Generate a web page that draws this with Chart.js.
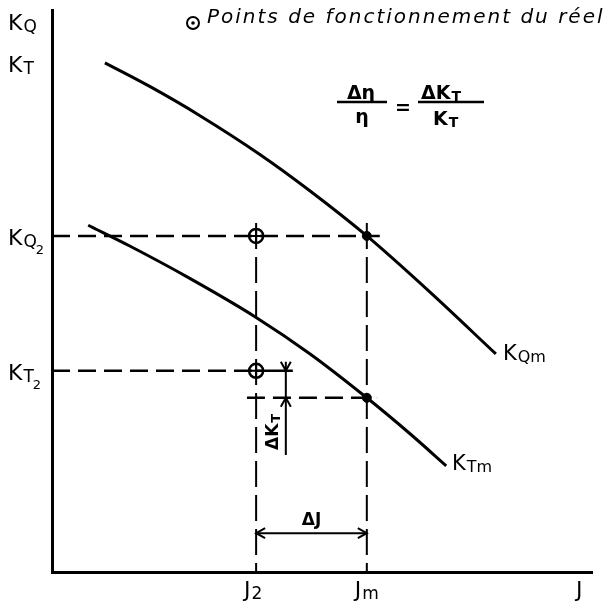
<!DOCTYPE html>
<html>
<head>
<meta charset="utf-8">
<script src="https://cdn.jsdelivr.net/npm/chart.js@4.4.1/dist/chart.umd.min.js"></script>
<style>
  html, body { margin: 0; padding: 0; background: #fff; }
  #wrap { width: 611px; height: 603px; }
</style>
</head>
<body>
<div id="wrap"><canvas id="diagram" width="611" height="603"></canvas></div>
<script>
// courbe KQ du modèle
const jKQm = [0.98, 1.81, 2.74, 3.85, 4.78, 5.83, 7.00, 8.22];
const kQm  = [9.06, 8.64, 8.12, 7.43, 6.78, 5.98, 4.98, 3.88];
// courbe KT du modèle
const jKTm = [0.67, 1.44, 2.56, 3.78, 4.78, 5.83, 6.63, 7.30];
const kTm  = [6.17, 5.80, 5.22, 4.53, 3.88, 3.10, 2.46, 1.89];

// points de fonctionnement
const J2 = 3.78, Jm = 5.83;
const KQ2 = 5.98, KT2 = 3.58, KTatJm = 3.10;

// cotes ΔJ et ΔKT
const dJy = 0.69;
const dKTx = 4.33, dKTtop = 3.74, dKTbottom = 2.08;
// bouts des traits de rappel
const guideTop = 6.21, kq2End = 6.07, kt2End = 4.46, ktmStart = 3.61, ktmEnd = 6.02;

const pts = (xs, ys) => xs.map((x, i) => ({ x: x, y: ys[i] }));
const seg = (x1, y1, x2, y2) => [{ x: x1, y: y1 }, { x: x2, y: y2 }];

function line(data, width, dash) {
  return {
    data: data, showLine: true, borderColor: '#000', borderWidth: width,
    borderDash: dash || [], pointRadius: 0, fill: false
  };
}

const datasets = [
  Object.assign(line(pts(jKQm, kQm), 3), { cubicInterpolationMode: 'monotone' }),
  Object.assign(line(pts(jKTm, kTm), 3), { cubicInterpolationMode: 'monotone' }),
  line(seg(0, KQ2, kq2End, KQ2), 2.5, [18, 8]),
  line(seg(0, KT2, J2, KT2), 2.5, [18, 8]),
  line(seg(J2, KT2, kt2End, KT2), 2.5),
  line(seg(ktmStart, KTatJm, ktmEnd, KTatJm), 2.5, [18, 8]),
  line(seg(J2, guideTop, J2, 0), 2, [26, 8]),
  line(seg(Jm, guideTop, Jm, 0), 2, [26, 8]),
  line(seg(J2, dJy, Jm, dJy), 2),
  line(seg(dKTx, dKTtop, dKTx, dKTbottom), 2),
  {
    data: seg(J2, KQ2, J2, KT2), showLine: false, pointStyle: 'circle',
    pointRadius: 7, borderColor: '#000', borderWidth: 2.5, backgroundColor: 'rgba(0,0,0,0)'
  },
  {
    data: seg(J2, KQ2, J2, KT2), showLine: false, pointStyle: 'cross',
    pointRadius: 7, borderColor: '#000', borderWidth: 2
  },
  {
    data: seg(Jm, KQ2, Jm, KTatJm), showLine: false, pointStyle: 'circle',
    pointRadius: 4.5, borderColor: '#000', backgroundColor: '#000', borderWidth: 1
  }
];

// lettre principale + indices
function sym(ctx, x, y, main, sub, sub2, size, weight) {
  size = size || 22;
  weight = weight || '';
  ctx.font = weight + ' ' + size + 'px "DejaVu Sans"';
  ctx.fillText(main, x, y);
  let cx = x + ctx.measureText(main).width + 1;
  if (sub) {
    ctx.font = weight + ' ' + Math.round(size * 0.75) + 'px "DejaVu Sans"';
    ctx.fillText(sub, cx, y + 2);
    cx += ctx.measureText(sub).width + 1;
  }
  if (sub2) {
    ctx.font = weight + ' ' + Math.round(size * 0.6) + 'px "DejaVu Sans"';
    ctx.fillText(sub2, cx - 2, y + 9);
  }
}

function arrowHead(ctx, x, y, dx, dy) {
  const s = 9, w = 5;
  ctx.beginPath();
  ctx.moveTo(x - dx * s - dy * w, y - dy * s + dx * w);
  ctx.lineTo(x, y);
  ctx.lineTo(x - dx * s + dy * w, y - dy * s - dx * w);
  ctx.stroke();
}

const annotations = {
  id: 'annotations',
  afterDatasetsDraw(chart) {
    const ctx = chart.ctx;
    const xs = chart.scales.x, ys = chart.scales.y;
    const px = v => xs.getPixelForValue(v);
    const py = v => ys.getPixelForValue(v);
    ctx.save();
    ctx.fillStyle = '#000';
    ctx.strokeStyle = '#000';
    ctx.textBaseline = 'alphabetic';
    ctx.textAlign = 'left';

    // titres des axes
    sym(ctx, 8, 30, 'K', 'Q');
    sym(ctx, 8, 72, 'K', 'T');
    sym(ctx, 8, py(KQ2) + 9, 'K', 'Q', '2');
    sym(ctx, 8, py(KT2) + 9, 'K', 'T', '2');
    sym(ctx, 576, 597, 'J');
    sym(ctx, px(J2) - 12, 597, 'J', '2');
    sym(ctx, px(Jm) - 12, 597, 'J', 'm');

    // noms des courbes
    sym(ctx, 503, 360, 'K', 'Qm', null, 21);
    sym(ctx, 452, 470, 'K', 'Tm', null, 21);

    // cotes
    ctx.lineWidth = 2;
    arrowHead(ctx, px(J2), py(dJy), -1, 0);
    arrowHead(ctx, px(Jm), py(dJy), 1, 0);
    arrowHead(ctx, px(dKTx), py(KT2), 0, 1);
    arrowHead(ctx, px(dKTx), py(KTatJm), 0, -1);
    ctx.font = 'bold 17px "DejaVu Sans"';
    ctx.textAlign = 'center';
    ctx.fillText('ΔJ', (px(J2) + px(Jm)) / 2, py(dJy) - 8);
    ctx.save();
    ctx.translate(px(dKTx) - 8, 450);
    ctx.rotate(-Math.PI / 2);
    ctx.textAlign = 'left';
    sym(ctx, 0, 0, 'ΔK', 'T', null, 17, 'bold');
    ctx.restore();

    // légende
    ctx.lineWidth = 2;
    ctx.beginPath();
    ctx.arc(193, 23, 6, 0, Math.PI * 2);
    ctx.stroke();
    ctx.beginPath();
    ctx.arc(193, 23, 1.8, 0, Math.PI * 2);
    ctx.fill();
    ctx.textAlign = 'left';
    ctx.font = 'italic 20px "DejaVu Sans"';
    ctx.letterSpacing = '2px';
    ctx.fillText('Points de fonctionnement du réel', 207, 23);
    ctx.letterSpacing = '0px';

    // relation
    ctx.textAlign = 'center';
    ctx.font = 'bold 19px "DejaVu Sans"';
    ctx.fillText('Δη', 361, 99);
    ctx.fillText('η', 362, 123);
    ctx.fillText('=', 403, 114);
    ctx.textAlign = 'left';
    sym(ctx, 421, 99, 'ΔK', 'T', null, 19, 'bold');
    sym(ctx, 433, 125, 'K', 'T', null, 19, 'bold');
    ctx.lineWidth = 2.5;
    ctx.beginPath();
    ctx.moveTo(337, 102); ctx.lineTo(387, 102);
    ctx.moveTo(418, 102); ctx.lineTo(484, 102);
    ctx.stroke();
    ctx.restore();
  }
};

new Chart(document.getElementById('diagram'), {
  type: 'scatter',
  data: { datasets: datasets },
  options: {
    responsive: false,
    animation: false,
    devicePixelRatio: 1,
    layout: { padding: { left: 52, right: 19, top: 10, bottom: 31 } },
    plugins: { legend: { display: false }, tooltip: { enabled: false } },
    scales: {
      x: {
        type: 'linear', min: 0, max: 10,
        ticks: { display: false },
        grid: { display: false, drawTicks: false },
        border: { display: true, color: '#000', width: 3 }
      },
      y: {
        type: 'linear', min: 0, max: 10,
        ticks: { display: false },
        grid: { display: false, drawTicks: false },
        border: { display: true, color: '#000', width: 3 }
      }
    }
  },
  plugins: [annotations]
});
</script>
</body>
</html>
